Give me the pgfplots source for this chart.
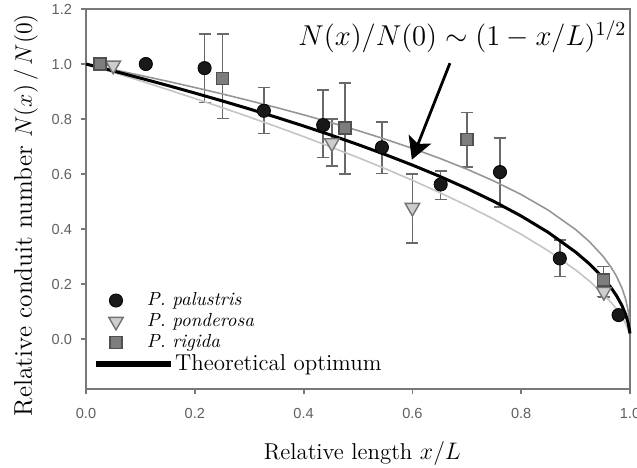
\documentclass[border=0pt]{standalone}
\usepackage{fontspec}
\setsansfont{Liberation Sans}
\usepackage{pgfplots}
\usepackage{pgfplotstable}
\pgfplotsset{compat=1.18}
\usetikzlibrary{arrows.meta}
\definecolor{axgray}{RGB}{120,120,120}
\definecolor{tickgray}{RGB}{95,95,95}
\definecolor{upgray}{RGB}{150,150,150}
\definecolor{lowgray}{RGB}{196,196,196}
\definecolor{ebgray}{RGB}{105,105,105}
\definecolor{trifill}{RGB}{205,205,205}
\definecolor{triedge}{RGB}{115,115,115}
\definecolor{sqfill}{RGB}{125,125,125}
\definecolor{sqedge}{RGB}{80,80,80}

\pgfplotstableread{
x up mid low
0 1 1 1
0.05 0.9797 0.9747 0.9697
0.1 0.9587 0.9487 0.9387
0.15 0.9371 0.9220 0.9071
0.2 0.9146 0.8944 0.8747
0.25 0.8913 0.8660 0.8415
0.3 0.8670 0.8367 0.8074
0.35 0.8417 0.8062 0.7722
0.4 0.8152 0.7746 0.7360
0.45 0.7873 0.7416 0.6984
0.5 0.7579 0.7071 0.6598
0.55 0.7266 0.6708 0.6194
0.6 0.6931 0.6325 0.5771
0.65 0.6571 0.5916 0.5327
0.7 0.6178 0.5477 0.4856
0.75 0.5743 0.5 0.4353
0.8 0.5253 0.4472 0.3807
0.85 0.4682 0.3873 0.3204
0.9 0.3981 0.3162 0.2512
0.925 0.3548 0.2739 0.2114
0.95 0.3017 0.2236 0.1657
0.965 0.2616 0.1871 0.1338
0.975 0.2287 0.1581 0.1093
0.985 0.1864 0.1225 0.0805
0.992 0.1450 0.0894 0.0552
0.997 0.0979 0.0548 0.0306
1.0 0.02 0.02 0.02
}\curves

\pgfplotstableread{
x y ep em
0.11 1.00 0 0
0.218 0.985 0.125 0.125
0.327 0.830 0.085 0.083
0.436 0.778 0.127 0.118
0.544 0.697 0.093 0.095
0.652 0.562 0.048 0.055
0.761 0.607 0.123 0.126
0.871 0.293 0.067 0.066
0.979 0.087 0 0
}\palustris

\pgfplotstableread{
x y ep em
0.05 0.995 0 0
0.452 0.713 0.087 0.083
0.600 0.478 0.122 0.128
0.952 0.172 0.02 0.02
}\ponderosa

\pgfplotstableread{
x y ep em
0.026 1.00 0 0
0.251 0.947 0.163 0.145
0.476 0.767 0.163 0.167
0.700 0.725 0.099 0.099
0.951 0.215 0.049 0.061
}\rigida

\begin{document}
\begin{tikzpicture}
\useasboundingbox (-43bp,-39.5bp) rectangle (275.5bp,194.5bp);
\begin{axis}[
  at={(0,0)}, anchor=south west,
  scale only axis, width=272bp, height=190bp,
  xmin=0, xmax=1, ymin=-0.1818, ymax=1.2,
  clip=false,
  xtick={0,0.2,0.4,0.6,0.8,1.0},
  xticklabels={0.0,0.2,0.4,0.6,0.8,1.0},
  ytick={0,0.2,0.4,0.6,0.8,1.0,1.2},
  yticklabels={0.0,0.2,0.4,0.6,0.8,1.0,1.2},
  tick pos=left, tick align=outside, major tick length=2.5bp,
  axis line style={axgray, line width=0.9bp},
  every tick/.style={axgray, line width=0.9bp},
  ticklabel style={font=\sffamily\fontsize{7.3}{9}\selectfont, text=tickgray},
  xticklabel style={yshift=-3.6bp},
  yticklabel style={xshift=-1bp},
  xlabel={Relative length $x/L$},
  ylabel={Relative conduit number $N(x)\,/\,N(0)$},
  xlabel style={at={(axis description cs:0.508,-0.1842)}, anchor=base, font=\fontsize{11.5}{13}\selectfont},
  ylabel style={at={(axis description cs:-0.0993,0.458)}, anchor=base, font=\fontsize{12.8}{14}\selectfont},
  legend image code/.code={\path[draw=none, fill=none] (-4.5bp,-3.5bp) rectangle (15.5bp,3.5bp); \draw[#1] plot coordinates {(0bp,0.5bp)};},
  legend style={at={(axis cs:0.0386,0.1745)}, anchor=north west, draw=none, fill=none,
    inner sep=0pt, outer sep=0pt, row sep=0pt, column sep=0pt,
    nodes={inner sep=0pt, text height=7bp, text depth=3.5bp, font=\fontsize{9.5}{11}\selectfont\itshape}},
  legend cell align=left,
  error bars/error bar style={ebgray, line width=0.8bp},
  error bars/error mark options={rotate=90, mark size=3bp, ebgray, line width=0.8bp},
]
\addplot[only marks, mark=*, mark size=3.3bp, mark options={fill=black!90, draw=black}, 
  error bars/.cd, y dir=both, y explicit]
  table[x=x, y=y, y error plus=ep, y error minus=em] {\palustris};
\addlegendentry{P.\ palustris}
\addplot[only marks, mark=triangle*, mark size=4.2bp, mark options={rotate=180, fill=trifill, draw=triedge, line width=0.7bp},
  error bars/.cd, y dir=both, y explicit]
  table[x=x, y=y, y error plus=ep, y error minus=em] {\ponderosa};
\addlegendentry{P.\ ponderosa}
\addplot[only marks, mark=square*, mark size=3bp, mark options={fill=sqfill, draw=sqedge, line width=0.7bp},
  error bars/.cd, y dir=both, y explicit]
  table[x=x, y=y, y error plus=ep, y error minus=em] {\rigida};
\addlegendentry{P.\ rigida}

\addplot[forget plot, lowgray, line width=0.8bp] table[x=x, y=low] {\curves};
\addplot[forget plot, upgray, line width=0.8bp] table[x=x, y=up] {\curves};
\addplot[forget plot, black, line width=1.5bp] table[x=x, y=mid] {\curves};

\node[anchor=base, font=\fontsize{14.2}{16}\selectfont] at (axis cs:0.692,1.066)
  {$N(x)/N(0)\sim(1-x/L)^{1/2}$};
\draw[black, line width=1.4bp, -{Stealth[length=11bp, width=12bp, inset=2.5bp]}]
  (axis cs:0.669,1.003) -- (axis cs:0.599,0.652);
\end{axis}
\begin{axis}[
  at={(0,0)}, anchor=south west,
  scale only axis, width=272bp, height=190bp,
  xmin=0, xmax=1, ymin=-0.1818, ymax=1.2,
  hide axis,
  legend image code/.code={\draw[#1] (0bp,0.25bp) -- (37.5bp,0.25bp);},
  legend style={at={(axis cs:0.0128,-0.0546)}, anchor=north west, draw=none, fill=none,
    inner sep=0pt, outer sep=0pt, column sep=0.8bp,
    nodes={inner sep=0pt, text height=8bp, text depth=2.5bp, font=\fontsize{11.5}{13}\selectfont}},
]
\addlegendimage{black, line width=2.8bp}
\addlegendentry{Theoretical optimum}
\end{axis}
\end{tikzpicture}
\end{document}
